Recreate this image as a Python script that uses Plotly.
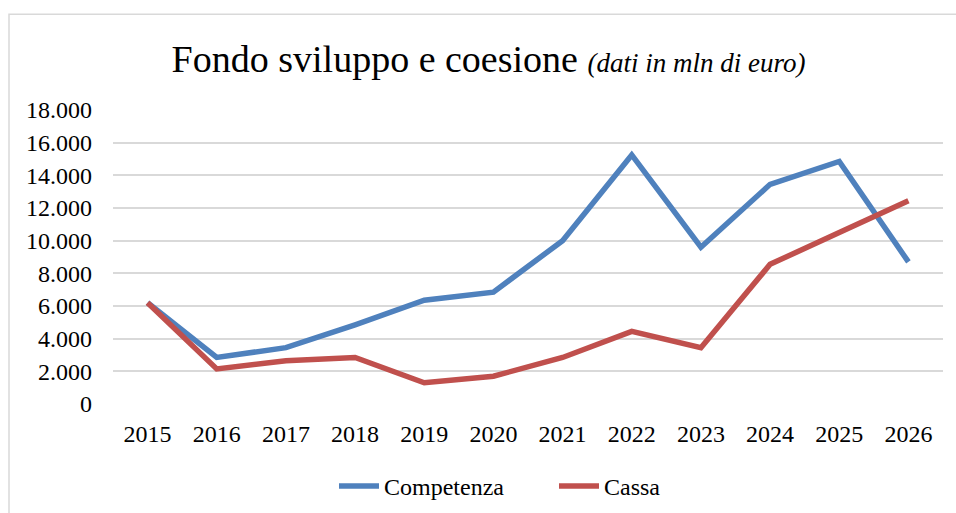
import plotly.graph_objects as go

years = ["2015", "2016", "2017", "2018", "2019", "2020", "2021", "2022", "2023", "2024", "2025", "2026"]
competenza = [6200, 2850, 3450, 4850, 6350, 6850, 10000, 15250, 9600, 13450, 14850, 8700]
cassa = [6200, 2150, 2650, 2850, 1300, 1700, 2850, 4450, 3450, 8550, 10500, 12450]
y_ticks = [0, 2000, 4000, 6000, 8000, 10000, 12000, 14000, 16000, 18000]

FONT = "Times New Roman, Liberation Serif, DejaVu Serif, serif"

fig = go.Figure()
fig.add_trace(go.Scatter(x=years, y=competenza, name="Competenza", mode="lines",
                         line=dict(color="#4f81bd", width=5.5)))
fig.add_trace(go.Scatter(x=years, y=cassa, name="Cassa", mode="lines",
                         line=dict(color="#c0504d", width=5.5)))

fig.update_layout(
    width=956, height=513,
    margin=dict(l=113, r=13, t=110, b=108.5, autoexpand=False),
    paper_bgcolor="white", plot_bgcolor="white",
    separators=",.",
    font=dict(family=FONT, size=24, color="black"),
    title=dict(
        text="Fondo sviluppo e coesione <i><span style='font-size:27px'>(dati in mln di euro)</span></i>",
        x=0.511, xanchor="center", xref="container",
        y=1 - 59 / 513, yanchor="middle", yref="container",
        font=dict(family=FONT, size=38, color="black"),
    ),
    xaxis=dict(type="category", range=[-0.5, 11.5], showgrid=False, showline=False,
               zeroline=False, ticks="", ticklabelstandoff=13,
               tickfont=dict(family=FONT, size=24)),
    yaxis=dict(range=[0, 18000], tickvals=y_ticks, tickformat=",d",
               showgrid=True, gridcolor="#d9d9d9", gridwidth=1.5,
               zeroline=False, showline=False, ticks="", ticklabelstandoff=20,
               tickfont=dict(family=FONT, size=24)),
    legend=dict(orientation="h", x=(334 - 113) / 830, xanchor="left", y=-0.28, yanchor="middle",
                font=dict(family=FONT, size=24), itemwidth=40, entrywidth=165,
                tracegroupgap=0),
    showlegend=True,
)

fig.add_shape(type="rect", xref="paper", yref="paper",
              x0=(9 - 113) / 830, x1=1.2, y0=-0.6, y1=(404.5 - 14) / 294.5,
              line=dict(color="#d9d9d9", width=1.5), fillcolor="rgba(0,0,0,0)", layer="below")

fig.write_html("out.html", config={"displayModeBar": False},
               post_script="document.body.style.margin='0';")
